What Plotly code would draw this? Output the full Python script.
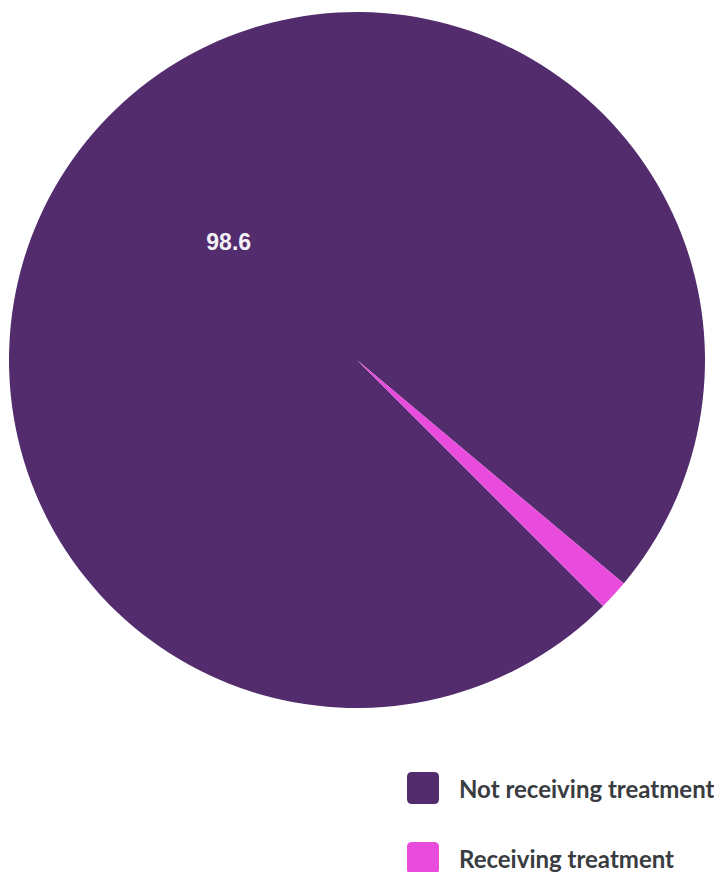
import plotly.graph_objects as go

labels = ["Not receiving treatment", "Receiving treatment"]
values = [98.6, 1.4]
colors = ["#522C6C", "#E94CDC"]
shown_labels = ["98.6", ""]

W, H = 714, 872

fig = go.Figure(
    go.Pie(
        labels=labels,
        values=values,
        sort=False,
        direction="clockwise",
        rotation=135,
        marker=dict(colors=colors, line=dict(width=0)),
        text=shown_labels,
        textinfo="text",
        textposition="inside",
        insidetextorientation="horizontal",
        textfont=dict(family="Liberation Sans", size=23, color="#f4f0f6", weight="bold"),
        domain=dict(x=[9 / W, 705 / W], y=[1 - 708 / H, 1 - 12 / H]),
        showlegend=False,
        hoverinfo="label+value",
    )
)

# custom legend (large rounded swatches)
def rounded_square(size, r):
    h = size / 2
    return (
        f"M {-h + r},{-h} L {h - r},{-h} Q {h},{-h} {h},{-h + r} "
        f"L {h},{h - r} Q {h},{h} {h - r},{h} L {-h + r},{h} "
        f"Q {-h},{h} {-h},{h - r} L {-h},{-h + r} Q {-h},{-h} {-h + r},{-h} Z"
    )

legend_y = [788, 858]
for lab, col, ypx in zip(labels, colors, legend_y):
    fig.add_shape(
        type="path",
        xref="paper", yref="paper",
        xsizemode="pixel", ysizemode="pixel",
        xanchor=423 / W, yanchor=1 - ypx / H,
        path=rounded_square(32, 5),
        fillcolor=col,
        line=dict(width=0),
    )
    fig.add_annotation(
        x=457 / W, y=1 - ypx / H,
        xref="paper", yref="paper",
        xanchor="left", yanchor="middle",
        text=lab, showarrow=False,
        font=dict(family="Lato", size=24, color="#393C40", weight="bold"),
    )

fig.update_layout(
    width=W, height=H,
    margin=dict(l=0, r=0, t=0, b=0),
    paper_bgcolor="#ffffff",
    plot_bgcolor="#ffffff",
)

fig.write_html("out.html")
